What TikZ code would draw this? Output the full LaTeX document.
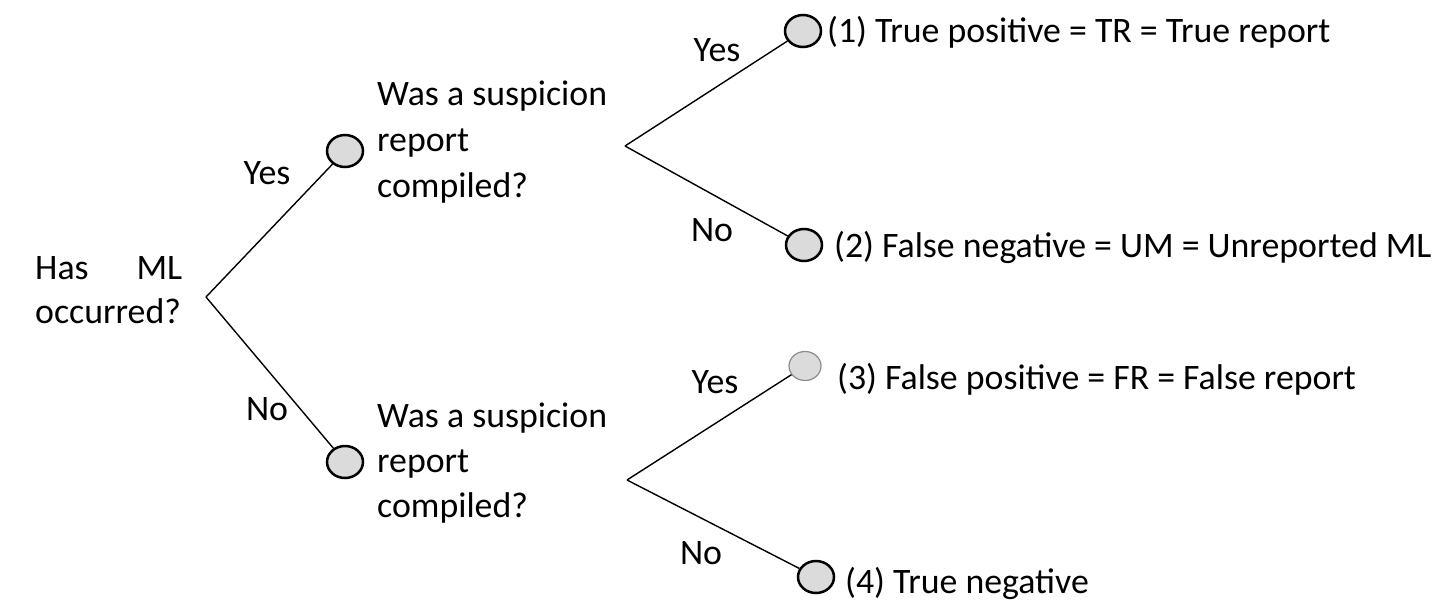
\documentclass[tikz,border=0pt]{standalone}
\usepackage{fontspec}
\setmainfont{Carlito}
\usetikzlibrary{shapes.geometric}
\begin{document}
\begin{tikzpicture}[x=1pt,y=-1pt,
  txt/.style={inner sep=0pt,anchor=base west,font=\fontsize{35.8}{45}\selectfont},
  lbl/.style={inner sep=0pt,anchor=center,font=\fontsize{35.8}{45}\selectfont},
  dot/.style={ellipse,draw=black,line width=2.5pt,fill=black!14,minimum width=36pt,minimum height=32pt,inner sep=0pt},
  dotlight/.style={ellipse,draw=black!45,line width=1.2pt,fill=black!14,minimum width=32pt,minimum height=29pt,inner sep=0pt},
  edge/.style={line width=1.4pt,draw=black}]
\useasboundingbox[fill=white] (0,0) rectangle (1434,602);
% root text
\node[txt,text width=147pt] (r1) at (35,279) {Has\hfill ML};
\node[txt] (r2) at (35,323) {occurred?};
\coordinate (a0) at (206,297);
% middle circles
\node[dot] (m1) at (345,151) {};
\node[dot] (m2) at (345,462) {};
\draw[edge] (a0) -- (m1);
\draw[edge] (a0) -- (m2);
\node[lbl] (y0) at (267,173) {Yes};
\node[lbl] (n0) at (267,409) {No};
% middle texts
\node[txt] (u1) at (377,105) {Was a suspicion};
\node[txt] (u2) at (377,151) {report};
\node[txt] (u3) at (377,197) {compiled?};
\node[txt] (l1) at (377,427) {Was a suspicion};
\node[txt] (l2) at (377,472) {report};
\node[txt] (l3) at (377,517) {compiled?};
% right branches
\coordinate (a1) at (625,146);
\coordinate (a2) at (627,480);
\node[dot] (c1) at (803,31) {};
\node[dot] (c2) at (804,245) {};
\node[dotlight] (c3) at (805,366) {};
\node[dot] (c4) at (816,577) {};
\draw[edge] (a1) -- (c1);
\draw[edge] (a1) -- (c2);
\draw[edge] (a2) -- (c3);
\draw[edge] (a2) -- (c4);
\node[lbl] (y1) at (717,50) {Yes};
\node[lbl] (n1) at (712,230) {No};
\node[lbl] (y2) at (715,382) {Yes};
\node[lbl] (n2) at (701,553) {No};
\node[txt] (t1) at (827,43) {(1) True positive = TR = True report};
\node[txt] (t2) at (834,257) {(2) False negative = UM = Unreported ML};
\node[txt] (t3) at (837,389) {(3) False positive = FR = False report};
\node[txt] (t4) at (845,593) {(4) True negative};
\end{tikzpicture}
\end{document}
